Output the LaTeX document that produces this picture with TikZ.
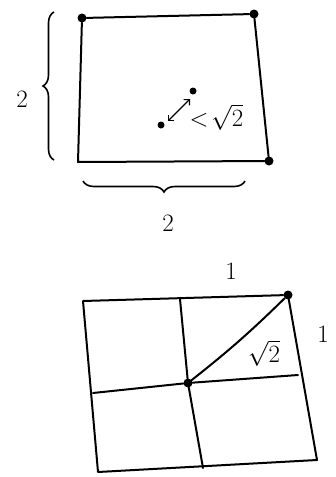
\documentclass[tikz,border=0pt]{standalone}
\usetikzlibrary{decorations.pathreplacing,arrows.meta}
\begin{document}
\begin{tikzpicture}[x=1pt,y=-1pt,
  pen/.style={line width=2pt,line cap=round,line join=round,black},
  dot/.style={circle,fill=black,inner sep=0pt,minimum size=9pt},
  lbl/.style={font=\fontsize{25}{28}\selectfont},
  brc/.style={line width=1.6pt,decorate,decoration={brace,amplitude=11pt}}]
\useasboundingbox (0,0) rectangle (336,477);
% top square
\node[dot] (tl) at (82,18) {};
\node[dot] (tr) at (254,14) {};
\node[dot] (br) at (269,161) {};
\coordinate (bl) at (78,162);
\draw[pen] (tl) -- (tr) -- (br) -- (bl) -- (tl);
\draw[brc] (54,160) -- (54,12);
\draw[brc] (245,181) -- (83,181);
\node[lbl] (h) at (22,99) {2};
\node[lbl] (w) at (168,223) {2};
\node[dot,minimum size=7pt] (p) at (193,91) {};
\node[dot,minimum size=7pt] (q) at (161,125) {};
\draw[line width=1.2pt,{Straight Barb[length=4pt]}-{Straight Barb[length=4pt]}] (190,99) -- (168,121);
\node[lbl,anchor=west] (d) at (186,117) {$<\!\sqrt{2}$};
% bottom grid
\node[dot] (c) at (188,383) {};
\node[dot] (g) at (288,295) {};
\coordinate (a) at (83,301);
\coordinate (e) at (317,460);
\coordinate (f) at (98,472);
\coordinate (lm) at (93,393);
\coordinate (rm) at (298,375);
\coordinate (tm) at (180,299);
\coordinate (bm) at (203,468);
\draw[pen] (a) -- (g) -- (e) -- (f) -- (a);
\draw[pen] (lm) -- (c) -- (rm);
\draw[pen] (tm) -- (c) -- (bm);
\draw[pen] (c) to[bend right=3] (g);
\node[lbl] (one1) at (231,271) {1};
\node[lbl] (one2) at (323,334) {1};
\node[lbl] (s2) at (264,353) {$\sqrt{2}$};
\end{tikzpicture}
\end{document}
